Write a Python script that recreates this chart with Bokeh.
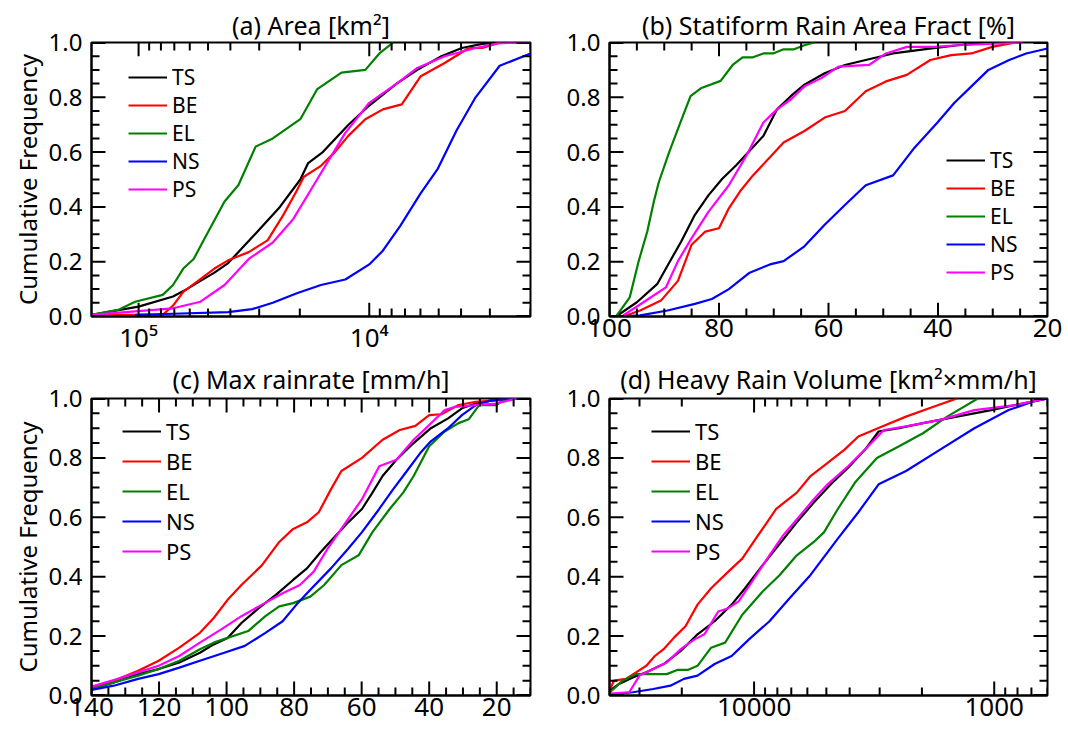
import math
from bokeh.plotting import figure
from bokeh.layouts import column, row
from bokeh.models import (Range1d, FixedTicker, PrintfTickFormatter, CustomJSTickFormatter,
                          Legend, LegendItem)
from bokeh.embed import file_html
from bokeh.resources import INLINE

FONT = "Noto Sans"
NAMES = ["TS", "BE", "EL", "NS", "PS"]
COLORS = ["#000000", "#ff0000", "#008000", "#0000ff", "#ff00ff"]

# ---------------- (a) Area [km2] ----------------
A_TS_X = [160000, 100000, 70900, 61800, 53900, 46900, 40900, 30500, 24400, 19900, 18400, 15900,
          12300, 10000, 7610, 6190, 4870, 3970, 3230, 2810]
A_TS_Y = [0.006, 0.036, 0.073, 0.10, 0.13, 0.16, 0.195, 0.31, 0.40, 0.50, 0.56, 0.60,
          0.70, 0.77, 0.85, 0.90, 0.95, 0.98, 0.995, 1.0]
A_BE_X = [160000, 78600, 70900, 64000, 55800, 46900, 40900, 33300, 27600, 23600, 20600, 19200,
          16200, 14100, 12300, 10400, 8730, 7230, 5980, 4710, 3700, 3230, 2720]
A_BE_Y = [0.006, 0.006, 0.04, 0.09, 0.127, 0.175, 0.205, 0.235, 0.278, 0.37, 0.46, 0.51,
          0.55, 0.60, 0.66, 0.72, 0.756, 0.774, 0.877, 0.925, 0.98, 0.98, 1.0]
A_EL_X = [160000, 122700, 103500, 78600, 70900, 64000, 57700, 52100, 42400, 36900, 31100, 26200,
          19900, 16800, 13200, 10400, 9040, 7870]
A_EL_Y = [0.006, 0.024, 0.054, 0.079, 0.115, 0.175, 0.21, 0.28, 0.42, 0.48, 0.62, 0.65,
          0.72, 0.83, 0.89, 0.90, 0.96, 1.0]
A_NS_X = [103500, 70900, 40900, 32200, 26200, 20600, 16200, 12700, 10000, 8730, 7350, 5980,
          5040, 4180, 3460, 2720, 2000]
A_NS_Y = [0.006, 0.01, 0.016, 0.027, 0.05, 0.085, 0.115, 0.135, 0.19, 0.24, 0.33, 0.45,
          0.54, 0.68, 0.80, 0.915, 0.96]
A_PS_X = [160000, 107100, 70900, 53900, 42400, 33300, 26200, 21300, 17400, 14600, 12700, 10000,
          7610, 6190, 4710, 3460, 2720, 2000]
A_PS_Y = [0.006, 0.018, 0.03, 0.054, 0.115, 0.21, 0.27, 0.357, 0.48, 0.586, 0.67, 0.78,
          0.85, 0.907, 0.95, 0.98, 0.998, 1.0]

# ---------------- (b) Stratiform rain area fraction [%] ----------------
B_TS_X = [98.8, 95.0, 91.3, 89.1, 86.9, 84.4, 81.9, 79.4, 76.9, 74.4, 71.9, 69.4, 66.9, 64.4,
          60.7, 57.0, 53.2, 48.2, 42.6, 36.4, 30.1]
B_TS_Y = [0.0, 0.052, 0.118, 0.196, 0.274, 0.371, 0.443, 0.503, 0.551, 0.605, 0.659, 0.756,
          0.804, 0.846, 0.888, 0.918, 0.936, 0.96, 0.975, 0.99, 1.0]
B_BE_X = [97.5, 94.4, 90.6, 87.5, 85.0, 82.5, 80.0, 78.2, 76.0, 73.8, 70.7, 68.2, 64.4, 60.7,
          57.0, 53.2, 49.5, 45.7, 41.4, 37.6, 33.9, 30.1, 25.8]
B_BE_Y = [0.0, 0.022, 0.058, 0.13, 0.262, 0.31, 0.322, 0.395, 0.461, 0.515, 0.581, 0.635,
          0.677, 0.726, 0.75, 0.822, 0.858, 0.882, 0.936, 0.954, 0.96, 0.984, 1.0]
B_EL_X = [98.8, 96.3, 94.7, 93.1, 91.9, 91.0, 89.1, 87.2, 85.2, 83.2, 79.7, 77.5, 75.7, 73.8,
          71.9, 70.1, 68.2, 66.3, 64.4, 62.6]
B_EL_Y = [0.0, 0.07, 0.2, 0.31, 0.42, 0.49, 0.6, 0.7, 0.804, 0.834, 0.86, 0.918, 0.946, 0.946,
          0.96, 0.96, 0.975, 0.975, 0.99, 1.0]
B_NS_X = [98.8, 94.4, 89.4, 84.4, 81.3, 78.2, 74.4, 70.7, 68.2, 64.4, 60.7, 57.0, 53.2, 48.2,
          44.5, 40.1, 37.0, 33.9, 30.8, 27.0, 23.9, 20.0]
B_NS_Y = [0.0, 0.004, 0.022, 0.046, 0.064, 0.1, 0.16, 0.19, 0.202, 0.256, 0.335, 0.407, 0.479,
          0.515, 0.611, 0.708, 0.78, 0.84, 0.9, 0.936, 0.96, 0.978]
B_PS_X = [97.5, 93.8, 89.7, 87.5, 85.0, 81.9, 78.2, 75.0, 71.9, 69.4, 66.9, 64.4, 61.3, 58.2,
          52.6, 49.5, 45.7, 40.7, 36.4, 24.5]
B_PS_Y = [0.004, 0.052, 0.106, 0.202, 0.286, 0.383, 0.479, 0.587, 0.708, 0.756, 0.792, 0.84,
          0.87, 0.912, 0.918, 0.96, 0.984, 0.984, 0.99, 1.0]

# ---------------- (c) Max rainrate [mm/h] ----------------
C_TS_X = [140, 133.4, 126.2, 120.1, 114.0, 107.9, 103.8, 99.7, 95.6, 90.5, 85.4, 80.3, 76.2,
          72.1, 68.1, 64.0, 59.9, 56.8, 53.8, 49.7, 44.6, 39.5, 34.4, 30.3, 26.2, 20.1, 14.0]
C_TS_Y = [0.022, 0.044, 0.072, 0.089, 0.111, 0.144, 0.172, 0.194, 0.244, 0.294, 0.339, 0.389,
          0.428, 0.483, 0.533, 0.583, 0.628, 0.683, 0.739, 0.794, 0.85, 0.9, 0.933, 0.967, 0.983,
          0.997, 1.0]
C_BE_X = [140, 133.4, 126.2, 120.1, 114.0, 107.9, 103.8, 99.7, 95.6, 89.5, 84.4, 80.3, 76.2,
          72.7, 69.1, 66.0, 59.9, 53.8, 48.7, 44.1, 40.0, 36.4, 31.3, 26.2, 20.1, 14.0]
C_BE_Y = [0.028, 0.05, 0.083, 0.117, 0.161, 0.211, 0.261, 0.322, 0.372, 0.439, 0.517, 0.561,
          0.583, 0.617, 0.694, 0.756, 0.8, 0.861, 0.894, 0.908, 0.944, 0.947, 0.978, 0.989,
          0.994, 1.0]
C_EL_X = [140, 133.4, 126.2, 120.1, 114.0, 107.9, 103.8, 99.7, 93.6, 88.5, 84.4, 80.3, 75.2,
          71.1, 66.0, 60.9, 56.8, 51.7, 47.7, 44.6, 40.0, 35.4, 31.3, 28.3, 25.2, 20.1, 18.1, 14.0]
C_EL_Y = [0.022, 0.044, 0.067, 0.089, 0.117, 0.156, 0.178, 0.194, 0.217, 0.267, 0.3, 0.311,
          0.333, 0.372, 0.439, 0.472, 0.55, 0.628, 0.683, 0.739, 0.839, 0.889, 0.917, 0.93,
          0.978, 0.978, 0.994, 1.0]
C_NS_X = [140, 133.4, 126.2, 120.1, 114.0, 107.9, 100.7, 94.6, 88.5, 83.4, 79.3, 75.2, 69.1,
          64.0, 59.9, 54.8, 50.7, 46.6, 42.6, 39.5, 34.4, 30.3, 26.2, 22.1, 18.1, 14.0]
C_NS_Y = [0.019, 0.033, 0.056, 0.072, 0.094, 0.117, 0.144, 0.167, 0.211, 0.25, 0.306, 0.356,
          0.428, 0.494, 0.55, 0.628, 0.694, 0.756, 0.817, 0.856, 0.9, 0.944, 0.978, 0.992,
          0.998, 1.0]
C_PS_X = [140, 133.4, 126.2, 120.1, 114.0, 107.9, 101.7, 95.6, 89.5, 83.4, 78.3, 74.2, 70.1,
          65.0, 59.9, 54.8, 49.7, 44.6, 40.0, 35.4, 32.3, 26.2, 20.1, 14.0]
C_PS_Y = [0.03, 0.052, 0.078, 0.1, 0.133, 0.178, 0.222, 0.267, 0.306, 0.344, 0.372, 0.417,
          0.494, 0.578, 0.661, 0.772, 0.794, 0.861, 0.911, 0.961, 0.972, 0.978, 0.983, 1.0]

# ---------------- (d) Heavy rain volume [km2 x mm/h] ----------------
D_TS_X = [39800, 36500, 32000, 28100, 23800, 20200, 17200, 14600, 12400, 10900, 9210, 7820,
          6640, 5640, 4790, 4060, 3450, 3030, 2490, 1980, 1430, 1030, 817, 600]
D_TS_Y = [0.017, 0.039, 0.061, 0.078, 0.106, 0.15, 0.206, 0.25, 0.306, 0.361, 0.439, 0.511,
          0.583, 0.65, 0.711, 0.767, 0.828, 0.889, 0.9, 0.917, 0.939, 0.961, 0.978, 1.0]
D_BE_X = [39800, 38300, 34200, 31000, 28100, 25900, 23800, 21600, 19300, 17200, 15100, 12800,
          11200, 9840, 8920, 8090, 6640, 5820, 4940, 4200, 3680, 2930, 2330, 1790, 1430]
D_BE_Y = [0.022, 0.05, 0.056, 0.078, 0.1, 0.133, 0.156, 0.194, 0.233, 0.306, 0.361, 0.417,
          0.461, 0.528, 0.578, 0.628, 0.683, 0.739, 0.783, 0.828, 0.872, 0.906, 0.939, 0.972, 1.0]
D_EL_X = [39800, 35300, 31000, 26300, 23100, 20900, 18900, 17200, 15100, 13200, 11200, 9210,
          7820, 6640, 5640, 5110, 4480, 3800, 3080, 2490, 1980, 1570, 1170]
D_EL_Y = [0.011, 0.05, 0.072, 0.072, 0.072, 0.086, 0.086, 0.1, 0.161, 0.178, 0.272, 0.35,
          0.406, 0.472, 0.517, 0.55, 0.628, 0.717, 0.8, 0.839, 0.883, 0.939, 1.0]
D_NS_X = [39800, 36500, 32000, 26300, 22300, 19600, 17200, 14600, 12400, 10500, 8630, 7100,
          5820, 5110, 4480, 3680, 3030, 2330, 1680, 1210, 871, 693, 600]
D_NS_Y = [0.0, 0.006, 0.011, 0.022, 0.033, 0.056, 0.067, 0.106, 0.133, 0.189, 0.25, 0.328,
          0.406, 0.467, 0.528, 0.617, 0.711, 0.756, 0.828, 0.9, 0.961, 0.989, 1.0]
D_PS_X = [39800, 33100, 30000, 26300, 23100, 20200, 17700, 16100, 14100, 12800, 11600, 10200,
          8630, 7570, 6430, 5640, 4940, 4060, 3450, 2880, 2330, 1680, 1210, 817, 600]
D_PS_Y = [0.006, 0.011, 0.067, 0.089, 0.111, 0.156, 0.189, 0.206, 0.283, 0.294, 0.317, 0.383,
          0.472, 0.539, 0.606, 0.661, 0.711, 0.772, 0.828, 0.894, 0.906, 0.928, 0.961, 0.978, 1.0]

# axis tick settings
Y_MAJOR = [i * 0.2 for i in range(6)]
Y_MINOR = [i * 0.05 for i in range(21) if i % 4 != 0]
MAJ_LEN = 14
MIN_LEN = 8


def style_axis(ax, size, standoff):
    ax.axis_line_color = "black"
    ax.axis_line_width = 2
    ax.major_tick_in = 0
    ax.major_tick_out = 0
    ax.minor_tick_in = 0
    ax.minor_tick_out = 0
    ax.major_tick_line_color = None
    ax.minor_tick_line_color = None
    ax.major_label_text_font = FONT
    ax.major_label_text_font_size = size
    ax.major_label_text_color = "black"
    ax.major_label_standoff = standoff


def log_ticks(lo, hi):
    majors = [10.0 ** e for e in range(2, 7) if lo <= 10.0 ** e <= hi]
    minors = [m * 10.0 ** e for e in range(2, 7) for m in range(2, 10) if lo <= m * 10.0 ** e <= hi]
    return majors, minors


def lin_ticks(lo, hi):
    majors = [v for v in range(0, 201, 20) if lo <= v <= hi]
    minors = [v for v in range(0, 201, 5) if v % 20 and lo <= v <= hi]
    return majors, minors


def make_panel(title, xs, ys, width, height, border, x_start, x_end, log, x_fmt_code,
               ylabel, leg_loc, row_h, leg_font, title_standoff):
    bl, br, bt, bb = border
    fw = width - bl - br
    fh = height - bt - bb
    p = figure(width=width, height=height, x_axis_type="log" if log else "linear",
               x_range=Range1d(x_start, x_end), y_range=Range1d(0, 1),
               output_backend="svg", toolbar_location=None,
               min_border_left=bl, min_border_right=br, min_border_top=bt, min_border_bottom=bb)
    p.grid.visible = False
    p.outline_line_color = "black"
    p.outline_line_width = 2
    p.background_fill_color = "white"
    p.border_fill_color = "white"

    p.title.text = title
    p.title.text_font = FONT
    p.title.text_font_size = "25px"
    p.title.text_font_style = "normal"
    p.title.text_color = "black"
    p.title.align = "center"
    p.title.standoff = title_standoff

    lo, hi = min(x_start, x_end), max(x_start, x_end)
    xmaj, xmin = log_ticks(lo, hi) if log else lin_ticks(lo, hi)

    xa = p.xaxis[0]
    xa.ticker = FixedTicker(ticks=xmaj, minor_ticks=xmin)
    if x_fmt_code is not None:
        xa.formatter = CustomJSTickFormatter(code=x_fmt_code)
    style_axis(xa, "26px", 2)

    ya = p.yaxis[0]
    ya.ticker = FixedTicker(ticks=Y_MAJOR, minor_ticks=Y_MINOR)
    ya.formatter = PrintfTickFormatter(format="%.1f")
    style_axis(ya, "24px", 9)
    if ylabel:
        ya.axis_label = ylabel
        ya.axis_label_text_font = FONT
        ya.axis_label_text_font_size = "24px"
        ya.axis_label_text_font_style = "normal"
        ya.axis_label_text_color = "black"
        ya.axis_label_standoff = 2

    rends = []
    for x, y, c in zip(xs, ys, COLORS):
        rends.append(p.line(x, y, line_color=c, line_width=2.2))

    # inward tick marks on all four sides: each one a short two-point line,
    # placed from the tick lists and the frame size
    def x_at(frac):
        if log:
            a, b = math.log10(x_start), math.log10(x_end)
            return 10 ** (a + (b - a) * frac)
        return x_start + (x_end - x_start) * frac

    e_x = 0.5 / fw
    e_y = 0.5 / fh
    for vals, ln in ((Y_MAJOR, MAJ_LEN), (Y_MINOR, MIN_LEN)):
        f = ln / fw
        for v in vals:
            vv = min(max(v, e_y), 1 - e_y)
            p.line([x_at(e_x), x_at(f)], [vv, vv], line_color="black", line_width=2)
            p.line([x_at(1 - e_x), x_at(1 - f)], [vv, vv], line_color="black", line_width=2)
    for vals, ln in ((xmaj, MAJ_LEN), (xmin, MIN_LEN)):
        f = ln / fh
        for v in vals:
            p.line([v, v], [e_y, f], line_color="black", line_width=2)
            p.line([v, v], [1 - e_y, 1 - f], line_color="black", line_width=2)

    items = [LegendItem(label=n, renderers=[r]) for n, r in zip(NAMES, rends)]
    lg = Legend(items=items, location=leg_loc, padding=0, margin=0, spacing=0,
                glyph_width=39, glyph_height=row_h, label_height=row_h, label_standoff=5,
                label_text_font=FONT, label_text_font_size=leg_font, label_text_color="black",
                border_line_alpha=0, background_fill_alpha=0)
    p.add_layout(lg, "center")
    return p


SUP_FMT = "return tick > 50000 ? '10\u2075' : '10\u2074';"
INT_FMT = "return tick.toFixed(0);"

pa = make_panel("(a) Area [km\u00b2]",
                [A_TS_X, A_BE_X, A_EL_X, A_NS_X, A_PS_X],
                [A_TS_Y, A_BE_Y, A_EL_Y, A_NS_Y, A_PS_Y],
                545, 357, (91, 15, 42, 38), 160000, 2000, True, SUP_FMT,
                "Cumulative Frequency", (37, 113), 28, "21px", 2)
pb = make_panel("(b) Statiform Rain Area Fract [%]",
                [B_TS_X, B_BE_X, B_EL_X, B_NS_X, B_PS_X],
                [B_TS_Y, B_BE_Y, B_EL_Y, B_NS_Y, B_PS_Y],
                523, 357, (64, 21, 42, 38), 100, 20, False, None,
                None, (337, 30), 28, "21px", 2)
pc = make_panel("(c) Max rainrate [mm/h]",
                [C_TS_X, C_BE_X, C_EL_X, C_NS_X, C_PS_X],
                [C_TS_Y, C_BE_Y, C_EL_Y, C_NS_Y, C_PS_Y],
                545, 373, (91, 15, 39, 35), 140, 10, False, None,
                "Cumulative Frequency", (31, 129), 30, "22px", 5)
pd_ = make_panel("(d) Heavy Rain Volume [km\u00b2\u00d7mm/h]",
                 [D_TS_X, D_BE_X, D_EL_X, D_NS_X, D_PS_X],
                 [D_TS_Y, D_BE_Y, D_EL_Y, D_NS_Y, D_PS_Y],
                 523, 373, (64, 21, 39, 35), 40000, 600, True, INT_FMT,
                 None, (42, 129), 30, "22px", 5)

layout = column(row(pa, pb), row(pc, pd_))
open("out.html", "w").write(file_html(layout, INLINE))
